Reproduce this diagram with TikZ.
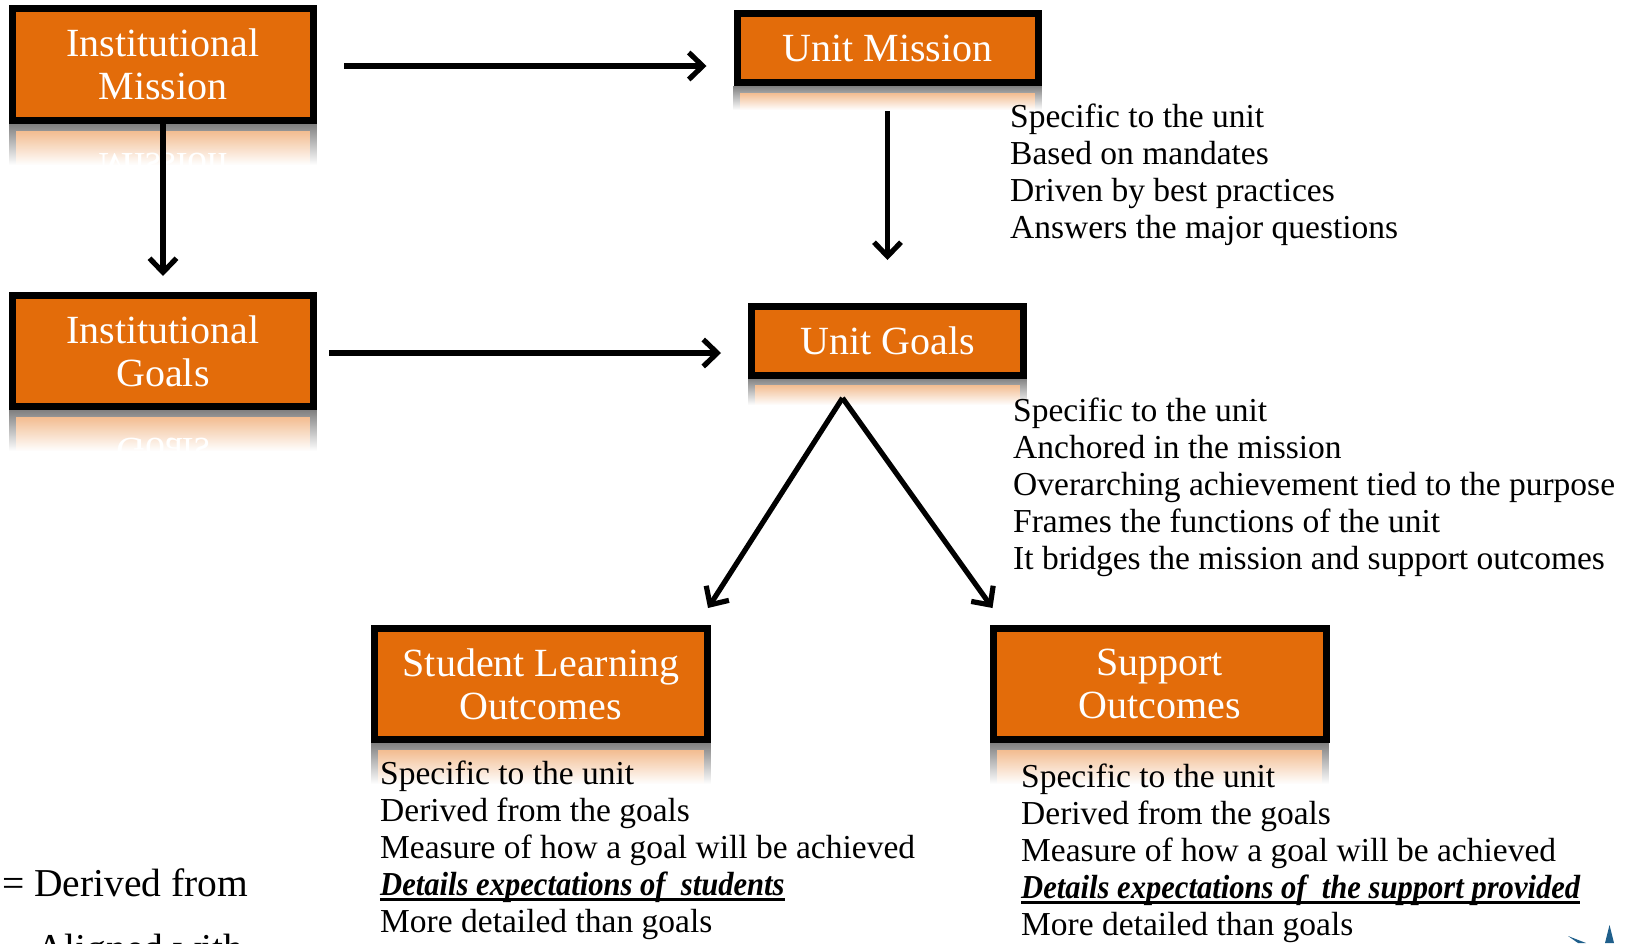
\documentclass[tikz,border=0pt]{standalone}
\usepackage{fontspec}
\usepackage{graphicx}
\setmainfont{Liberation Serif}
\usetikzlibrary{arrows.meta,calc,fadings}
\definecolor{boxorange}{HTML}{E36C0A}
\definecolor{logoblue}{HTML}{1F5F8B}
\tikzset{
  orangebox/.style={draw=black,line width=7pt,fill=boxorange,text=white,align=center,inner sep=0pt,
    font=\fontsize{40}{43}\selectfont},
  arr/.style={line width=5.2pt,-{Straight Barb[length=14pt,width=27pt,line width=5.2pt]}},
  bodytext/.style={anchor=north west,inner sep=0pt,align=left,font=\fontsize{33.5}{37}\selectfont},
  reflectlabel/.style={text=white,align=center,inner sep=0pt,font=\fontsize{40}{43}\selectfont}
}
\newcommand{\emphline}[1]{\scalebox{0.913}[1]{\setbox0\hbox{\bfseries\itshape #1}\rlap{\rule[-5.5pt]{\wd0}{3pt}}\box0}}
\newcommand{\reflbox}[6]{%
  \begin{scope}
    \clip (#1,#3) rectangle (#2,#3+#4);
    \fill[black!50,path fading=south] (#1,#3) rectangle (#2,#3+#4);
    \fill[white] (#1+7,#3+7) rectangle (#2-7,#3+#4);
    \fill[boxorange!45,path fading=south] (#1+7,#3+7) rectangle (#2-7,#3+#4);
    \node[reflectlabel,yscale=-1,transform shape] at ({(#1+#2)/2},#6) {#5};
  \end{scope}
}
\begin{document}
\begin{tikzpicture}[x=1pt,y=-1pt]
\useasboundingbox (0,0) rectangle (1636,943);
\clip (0,0) rectangle (1636,943);
\reflbox{9}{317}{124}{41}{Mission}{167}
\reflbox{9}{317}{410}{41}{Goals}{452}
\reflbox{733}{1042}{86}{24}{}{120}
\reflbox{748}{1027}{378}{27}{}{410}
\reflbox{371}{711}{743}{41}{}{785}
\reflbox{990}{1329}{743}{41}{}{785}

\node[orangebox,minimum width=301pt,minimum height=112pt] (im) at (163,64.5) {Institutional\\Mission};
\node[orangebox,minimum width=301pt,minimum height=111pt] (ig) at (163,351) {Institutional\\Goals};
\node[orangebox,minimum width=301pt,minimum height=69pt] (um) at (887.5,48) {Unit Mission};
\node[orangebox,minimum width=272pt,minimum height=69pt] (ug) at (887.5,341) {Unit Goals};
\node[orangebox,minimum width=333pt,minimum height=111pt] (slo) at (541,684) {Student Learning\\Outcomes};
\node[orangebox,minimum width=333pt,minimum height=111pt] (so) at (1159.5,684) {Support\\Outcomes};

\draw[arr] ($(im.east)+(27,1.5)$) -- ($(um.west |- im.east)+(-27,1.5)$);
\draw[arr] (im.south) -- ($(ig.north)+(0,-16)$);
\draw[arr] ($(ig.east)+(12,2)$) -- ($(ug.west |- ig.east)+(-27,2)$);
\draw[arr] ($(um.south)+(0,25)$) -- ($(ug.north)+(0,-43)$);
\coordinate (apex) at ($(ug.south)+(-45,19)$);
\draw[arr] (apex) -- ($(slo.north east)+(-3,-17)$);
\draw[arr] (apex) -- ($(so.north west)+(3,-17)$);

\node[bodytext] (t1) at (1010,104) {Specific to the unit\\Based on mandates\\Driven by best practices\\Answers the major questions};
\node[bodytext] (t2) at (1013,398) {Specific to the unit\\Anchored in the mission\\Overarching achievement tied to the purpose\\Frames the functions of the unit\\It bridges the mission and support outcomes};
\node[bodytext] (t3) at (380,761) {Specific to the unit\\Derived from the goals\\Measure of how a goal will be achieved\\\emphline{Details expectations of\ \ students}\\More detailed than goals};
\node[bodytext] (t4) at (1021,764) {Specific to the unit\\Derived from the goals\\Measure of how a goal will be achieved\\\emphline{Details expectations of\ \ the support provided}\\More detailed than goals};
\node[anchor=base west,inner sep=0pt,font=\fontsize{39.5}{43}\selectfont] (l1) at (2,896) {= Derived from};
\node[anchor=base west,inner sep=0pt,font=\fontsize{39.5}{43}\selectfont] (l2) at (36,961) {Aligned with};
\fill[logoblue] (1609.5,925) -- (1614,943) -- (1605,943) -- cycle;
\fill[logoblue] (1568,936) -- (1586,943) -- (1578,943) -- cycle;
\end{tikzpicture}
\end{document}
